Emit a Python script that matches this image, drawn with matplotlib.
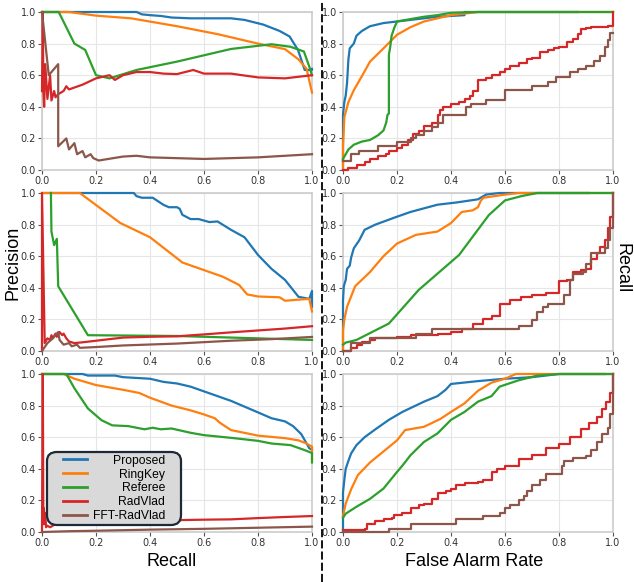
import numpy as np
import matplotlib
matplotlib.use("Agg")
import matplotlib.pyplot as plt
from matplotlib.lines import Line2D
from matplotlib.patches import BoxStyle

# ---------------- data ----------------
methods = ["Proposed", "RingKey", "Referee", "RadVlad", "FFT-RadVlad"]
colors = ["#1f77b4", "#ff7f0e", "#2ca02c", "#d62728", "#8c564b"]
tick_vals = [0.0, 0.2, 0.4, 0.6, 0.8, 1.0]
tick_labels = ["0.0", "0.2", "0.4", "0.6", "0.8", "1.0"]

# Row 1 - precision / recall
pr1_proposed_x = [0, 0.35, 0.37, 0.4, 0.44, 0.48, 0.55, 0.62, 0.7, 0.75, 0.82, 0.88, 0.917, 0.948, 0.96, 0.973, 1.0, 1.0]
pr1_proposed_y = [1.0, 1.0, 0.985, 0.98, 0.975, 0.965, 0.96, 0.96, 0.96, 0.95, 0.92, 0.88, 0.845, 0.76, 0.70, 0.633, 0.633, 0.64]
pr1_ringkey_x = [0, 0.1, 0.2, 0.33, 0.5, 0.65, 0.8, 0.9, 0.95, 0.98, 1.0]
pr1_ringkey_y = [1.0, 1.0, 0.977, 0.96, 0.91, 0.86, 0.80, 0.765, 0.70, 0.64, 0.49]
pr1_referee_x = [0, 0.062, 0.12, 0.16, 0.2, 0.25, 0.35, 0.5, 0.7, 0.85, 0.92, 0.97, 0.99, 1.0]
pr1_referee_y = [1.0, 1.0, 0.80, 0.76, 0.60, 0.58, 0.633, 0.686, 0.766, 0.796, 0.78, 0.75, 0.654, 0.60]
pr1_radvlad_x = [0.0, 0.003, 0.005, 0.008, 0.012, 0.02, 0.03, 0.035, 0.045, 0.05, 0.06, 0.08, 0.09, 0.1, 0.15, 0.2, 0.25,
                 0.27, 0.3, 0.35, 0.4, 0.45, 0.5, 0.56, 0.6, 0.7, 0.8, 0.9, 0.95, 1.0]
pr1_radvlad_y = [0.5, 1.0, 0.5, 0.4, 0.67, 0.45, 0.6, 0.44, 0.5, 0.46, 0.48, 0.5, 0.53, 0.51, 0.54, 0.58, 0.6,
                 0.57, 0.6, 0.62, 0.62, 0.61, 0.607, 0.633, 0.61, 0.61, 0.586, 0.58, 0.59, 0.6]
pr1_fft_x = [0.0, 0.025, 0.06, 0.06, 0.09, 0.1, 0.12, 0.13, 0.15, 0.16, 0.18, 0.19, 0.21, 0.3, 0.35, 0.4, 0.5, 0.6, 0.7, 0.8, 0.9, 1.0]
pr1_fft_y = [1.0, 0.6, 0.67, 0.15, 0.2, 0.13, 0.17, 0.1, 0.12, 0.08, 0.1, 0.075, 0.06, 0.085, 0.09, 0.08, 0.075, 0.07, 0.075, 0.08, 0.09, 0.1]

# Row 1 - ROC
roc1_proposed_x = [0, 0, 0.005, 0.01, 0.015, 0.02, 0.025, 0.04, 0.05, 0.07, 0.1, 0.15, 0.2, 0.3, 0.35, 0.45, 0.45, 0.87]
roc1_proposed_y = [0, 0.35, 0.43, 0.47, 0.55, 0.70, 0.77, 0.80, 0.85, 0.88, 0.91, 0.93, 0.94, 0.96, 0.97, 0.98, 1.0, 1.0]
roc1_ringkey_x = [0, 0, 0.005, 0.02, 0.04, 0.07, 0.1, 0.15, 0.2, 0.25, 0.3, 0.35, 0.4, 0.45, 0.5, 1.0]
roc1_ringkey_y = [0, 0.15, 0.335, 0.43, 0.505, 0.594, 0.686, 0.77, 0.856, 0.904, 0.94, 0.96, 0.98, 0.99, 1.0, 1.0]
roc1_referee_x = [0, 0.01, 0.02, 0.04, 0.07, 0.1, 0.13, 0.15, 0.16, 0.165, 0.17, 0.17, 0.175, 0.18, 0.19, 0.2, 0.25, 0.3, 0.35, 0.4, 0.5, 1.0]
roc1_referee_y = [0.07, 0.1, 0.13, 0.16, 0.18, 0.19, 0.22, 0.25, 0.30, 0.35, 0.357, 0.73, 0.78, 0.85, 0.90, 0.94, 0.955, 0.97, 0.98, 0.995, 1.0, 1.0]
roc1_radvlad_x = [0, 0.02, 0.05, 0.08, 0.1, 0.13, 0.16, 0.17, 0.2, 0.22, 0.24, 0.26, 0.28, 0.3, 0.33, 0.35, 0.36, 0.37, 0.4, 0.43,
                  0.45, 0.47, 0.48, 0.5, 0.53, 0.55, 0.58, 0.6, 0.62, 0.65, 0.68, 0.7, 0.73, 0.76, 0.78, 0.8, 0.83, 0.85,
                  0.87, 0.88, 0.9, 0.92, 0.98, 1.0, 1.0]
roc1_radvlad_y = [0, 0.01, 0.03, 0.05, 0.07, 0.09, 0.10, 0.12, 0.14, 0.16, 0.19, 0.23, 0.25, 0.28, 0.30, 0.35, 0.38, 0.40, 0.42, 0.43,
                  0.45, 0.47, 0.50, 0.57, 0.58, 0.60, 0.62, 0.64, 0.66, 0.68, 0.70, 0.71, 0.75, 0.76, 0.77, 0.78, 0.81, 0.83,
                  0.86, 0.89, 0.90, 0.905, 0.91, 0.91, 1.0]
roc1_fft_x = [0, 0.03, 0.06, 0.13, 0.2, 0.25, 0.27, 0.3, 0.33, 0.35, 0.37, 0.457, 0.475, 0.53, 0.6, 0.7, 0.76, 0.79, 0.84,
              0.87, 0.9, 0.93, 0.95, 0.97, 0.98, 0.99, 1.0]
roc1_fft_y = [0.06, 0.10, 0.12, 0.15, 0.18, 0.20, 0.22, 0.25, 0.27, 0.30, 0.35, 0.40, 0.42, 0.44, 0.505, 0.53, 0.56, 0.59, 0.62,
              0.64, 0.66, 0.69, 0.72, 0.78, 0.82, 0.87, 0.87]

# Row 2 - precision / recall
pr2_proposed_x = [0, 0.34, 0.35, 0.37, 0.41, 0.45, 0.47, 0.5, 0.51, 0.52, 0.55, 0.58, 0.62, 0.65, 0.7, 0.75, 0.8, 0.85, 0.9, 0.95, 0.99, 1.0, 1.0]
pr2_proposed_y = [1.0, 1.0, 0.98, 0.97, 0.97, 0.925, 0.91, 0.91, 0.90, 0.862, 0.835, 0.835, 0.816, 0.82, 0.767, 0.72, 0.608, 0.52, 0.45, 0.343, 0.33, 0.38, 0.28]
pr2_ringkey_x = [0, 0.14, 0.29, 0.4, 0.52, 0.67, 0.73, 0.76, 0.8, 0.88, 0.9, 0.95, 0.99, 1.0]
pr2_ringkey_y = [1.0, 1.0, 0.81, 0.72, 0.56, 0.47, 0.418, 0.358, 0.345, 0.34, 0.318, 0.325, 0.33, 0.25]
pr2_referee_x = [0.033, 0.035, 0.045, 0.055, 0.06, 0.17, 0.5, 0.8, 1.0]
pr2_referee_y = [1.0, 0.756, 0.67, 0.71, 0.41, 0.10, 0.095, 0.08, 0.07]
pr2_radvlad_x = [0.0, 0.0, 0.01, 0.02, 0.03, 0.035, 0.04, 0.05, 0.055, 0.065, 0.075, 0.08, 0.09, 0.1, 0.12, 0.15, 0.2, 0.3, 0.4, 0.5,
                 0.6, 0.7, 0.8, 0.9, 1.0]
pr2_radvlad_y = [0.0, 1.0, 0.05, 0.08, 0.07, 0.1, 0.08, 0.11, 0.09, 0.12, 0.1, 0.11, 0.08, 0.06, 0.05, 0.055, 0.065, 0.085, 0.09, 0.093,
                 0.105, 0.118, 0.13, 0.142, 0.157]
pr2_fft_x = [0.0, 0.02, 0.04, 0.05, 0.06, 0.065, 0.08, 0.1, 0.11, 0.13, 0.14, 0.2, 0.3, 0.5, 0.7, 0.85, 1.0]
pr2_fft_y = [0.0, 0.05, 0.08, 0.1, 0.12, 0.07, 0.04, 0.05, 0.03, 0.04, 0.02, 0.025, 0.035, 0.047, 0.065, 0.075, 0.089]

# Row 2 - ROC
roc2_proposed_x = [0, 0, 0.003, 0.01, 0.015, 0.025, 0.03, 0.04, 0.06, 0.08, 0.12, 0.2, 0.25, 0.35, 0.42, 0.5, 0.53, 0.58, 0.91]
roc2_proposed_y = [0, 0.32, 0.41, 0.45, 0.52, 0.54, 0.59, 0.65, 0.70, 0.767, 0.80, 0.85, 0.88, 0.926, 0.94, 0.96, 0.99, 1.0, 1.0]
roc2_ringkey_x = [0, 0, 0.005, 0.015, 0.045, 0.1, 0.15, 0.2, 0.27, 0.35, 0.4, 0.44, 0.48, 0.5, 0.51, 0.52, 0.6, 0.65, 1.0]
roc2_ringkey_y = [0, 0.13, 0.2, 0.28, 0.41, 0.50, 0.60, 0.68, 0.735, 0.756, 0.81, 0.88, 0.89, 0.91, 0.95, 0.97, 0.99, 1.0, 1.0]
roc2_referee_x = [0, 0.01, 0.05, 0.17, 0.28, 0.43, 0.54, 0.6, 0.66, 0.72, 1.0]
roc2_referee_y = [0.04, 0.053, 0.07, 0.174, 0.386, 0.608, 0.86, 0.953, 0.98, 1.0, 1.0]
roc2_radvlad_x = [0, 0.03, 0.05, 0.07, 0.1, 0.12, 0.2, 0.25, 0.35, 0.4, 0.44, 0.48, 0.52, 0.55, 0.58, 0.62, 0.66, 0.7, 0.75,
                  0.8, 0.83, 0.85, 0.88, 0.9, 0.92, 0.94, 0.95, 0.97, 0.98, 0.99, 1.0, 1.0]
roc2_radvlad_y = [0, 0.02, 0.04, 0.06, 0.07, 0.08, 0.09, 0.10, 0.11, 0.12, 0.14, 0.17, 0.20, 0.22, 0.30, 0.32, 0.34, 0.355, 0.37,
                  0.44, 0.45, 0.50, 0.51, 0.52, 0.58, 0.62, 0.66, 0.70, 0.78, 0.85, 0.92, 1.0]
roc2_fft_x = [0, 0.03, 0.1, 0.27, 0.33, 0.65, 0.7, 0.72, 0.74, 0.76, 0.82, 0.84, 0.85, 0.89, 0.9, 0.92, 0.97, 0.98, 0.99, 1.0, 1.0]
roc2_fft_y = [0, 0.05, 0.08, 0.11, 0.14, 0.16, 0.195, 0.25, 0.28, 0.30, 0.354, 0.45, 0.49, 0.50, 0.55, 0.62, 0.65, 0.70, 0.78, 0.80, 1.0]

# Row 3 - precision / recall
pr3_proposed_x = [0, 0.15, 0.17, 0.27, 0.3, 0.4, 0.45, 0.5, 0.55, 0.6, 0.7, 0.8, 0.85, 0.9, 0.93, 0.96, 0.98, 0.99, 1.0]
pr3_proposed_y = [1.0, 1.0, 0.99, 0.99, 0.98, 0.97, 0.95, 0.94, 0.92, 0.89, 0.83, 0.757, 0.72, 0.70, 0.67, 0.62, 0.56, 0.53, 0.52]
pr3_ringkey_x = [0, 0.08, 0.12, 0.2, 0.3, 0.36, 0.4, 0.48, 0.55, 0.6, 0.64, 0.66, 0.7, 0.8, 0.9, 0.95, 0.98, 1.0, 1.0]
pr3_ringkey_y = [1.0, 1.0, 0.97, 0.93, 0.90, 0.88, 0.85, 0.80, 0.77, 0.744, 0.72, 0.69, 0.645, 0.61, 0.594, 0.58, 0.56, 0.54, 0.46]
pr3_referee_x = [0, 0.09, 0.12, 0.17, 0.22, 0.26, 0.32, 0.38, 0.41, 0.44, 0.48, 0.55, 0.6, 0.7, 0.8, 0.85, 0.92, 0.97, 1.0, 1.0]
pr3_referee_y = [1.0, 1.0, 0.91, 0.782, 0.708, 0.675, 0.67, 0.65, 0.66, 0.65, 0.655, 0.628, 0.613, 0.596, 0.577, 0.56, 0.55, 0.52, 0.50, 0.44]
pr3_radvlad_x = [0.0, 0.003, 0.005, 0.007, 0.01, 0.012, 0.015, 0.02, 0.03, 0.05, 0.1, 0.3, 0.5, 0.6, 0.7, 0.8, 0.9, 1.0]
pr3_radvlad_y = [0.0, 1.0, 0.05, 0.15, 0.05, 0.12, 0.03, 0.04, 0.03, 0.05, 0.06, 0.07, 0.075, 0.078, 0.08, 0.088, 0.095, 0.101]
pr3_fft_x = [0.0, 0.1, 0.2, 0.4, 0.6, 0.8, 1.0]
pr3_fft_y = [0.0, 0.005, 0.008, 0.015, 0.02, 0.027, 0.034]

# Row 3 - ROC
roc3_proposed_x = [0, 0, 0.005, 0.01, 0.02, 0.03, 0.05, 0.08, 0.12, 0.17, 0.22, 0.3, 0.35, 0.38, 0.4, 0.5, 0.6, 0.7, 0.8, 0.97]
roc3_proposed_y = [0, 0.25, 0.33, 0.40, 0.45, 0.497, 0.55, 0.60, 0.65, 0.71, 0.76, 0.825, 0.86, 0.90, 0.937, 0.955, 0.97, 0.98, 1.0, 1.0]
roc3_ringkey_x = [0, 0.01, 0.03, 0.055, 0.1, 0.15, 0.2, 0.23, 0.3, 0.36, 0.4, 0.45, 0.5, 0.55, 0.6, 0.64, 1.0]
roc3_ringkey_y = [0.1, 0.18, 0.27, 0.36, 0.44, 0.51, 0.58, 0.645, 0.666, 0.715, 0.76, 0.814, 0.894, 0.945, 0.97, 1.0, 1.0]
roc3_referee_x = [0, 0.01, 0.05, 0.1, 0.15, 0.2, 0.22, 0.25, 0.3, 0.35, 0.4, 0.45, 0.5, 0.55, 0.58, 0.65, 0.72, 0.8, 1.0]
roc3_referee_y = [0.09, 0.116, 0.16, 0.21, 0.275, 0.38, 0.42, 0.486, 0.57, 0.624, 0.71, 0.76, 0.825, 0.86, 0.92, 0.96, 0.99, 1.0, 1.0]
roc3_radvlad_x = [0, 0.05, 0.08, 0.09, 0.12, 0.15, 0.18, 0.19, 0.22, 0.25, 0.28, 0.3, 0.33, 0.35, 0.38, 0.4, 0.42, 0.45, 0.5, 0.52,
                  0.55, 0.57, 0.6, 0.65, 0.7, 0.75, 0.8, 0.84, 0.88, 0.91, 0.94, 0.96, 0.975, 0.99, 1.0, 1.0]
roc3_radvlad_y = [0.01, 0.015, 0.02, 0.05, 0.07, 0.08, 0.09, 0.11, 0.12, 0.15, 0.17, 0.18, 0.21, 0.25, 0.26, 0.27, 0.30, 0.31, 0.317, 0.33,
                  0.38, 0.40, 0.42, 0.46, 0.49, 0.53, 0.56, 0.60, 0.65, 0.69, 0.73, 0.78, 0.82, 0.88, 0.95, 1.0]
roc3_fft_x = [0, 0.17, 0.25, 0.42, 0.52, 0.58, 0.6, 0.62, 0.65, 0.67, 0.68, 0.7, 0.73, 0.75, 0.81, 0.82, 0.85, 0.9, 0.92,
              0.94, 0.96, 0.98, 0.99, 1.0, 1.0]
roc3_fft_y = [0, 0.02, 0.05, 0.08, 0.10, 0.12, 0.15, 0.17, 0.20, 0.23, 0.26, 0.30, 0.33, 0.37, 0.42, 0.45, 0.47, 0.48, 0.52,
              0.57, 0.62, 0.66, 0.75, 0.85, 1.0]

rows = [
    ([(pr1_proposed_x, pr1_proposed_y), (pr1_ringkey_x, pr1_ringkey_y), (pr1_referee_x, pr1_referee_y),
      (pr1_radvlad_x, pr1_radvlad_y), (pr1_fft_x, pr1_fft_y)],
     [(roc1_proposed_x, roc1_proposed_y), (roc1_ringkey_x, roc1_ringkey_y), (roc1_referee_x, roc1_referee_y),
      (roc1_radvlad_x, roc1_radvlad_y), (roc1_fft_x, roc1_fft_y)]),
    ([(pr2_proposed_x, pr2_proposed_y), (pr2_ringkey_x, pr2_ringkey_y), (pr2_referee_x, pr2_referee_y),
      (pr2_radvlad_x, pr2_radvlad_y), (pr2_fft_x, pr2_fft_y)],
     [(roc2_proposed_x, roc2_proposed_y), (roc2_ringkey_x, roc2_ringkey_y), (roc2_referee_x, roc2_referee_y),
      (roc2_radvlad_x, roc2_radvlad_y), (roc2_fft_x, roc2_fft_y)]),
    ([(pr3_proposed_x, pr3_proposed_y), (pr3_ringkey_x, pr3_ringkey_y), (pr3_referee_x, pr3_referee_y),
      (pr3_radvlad_x, pr3_radvlad_y), (pr3_fft_x, pr3_fft_y)],
     [(roc3_proposed_x, roc3_proposed_y), (roc3_ringkey_x, roc3_ringkey_y), (roc3_referee_x, roc3_referee_y),
      (roc3_radvlad_x, roc3_radvlad_y), (roc3_fft_x, roc3_fft_y)]),
]

# ---------------- figure ----------------
W, H = 634, 582
DPI = 100
fig = plt.figure(figsize=(W / DPI, H / DPI), dpi=DPI)
fig.patch.set_facecolor("white")

label_font = "Liberation Sans"
tick_font = "DejaVu Sans"

col_left_px = [42, 343]
ax_w_px = 270
row_top_px = [12, 193, 374]
ax_h_px = 158


def style_axes(ax):
    ax.set_xlim(0, 1)
    ax.set_ylim(0, 1)
    ax.set_xticks(tick_vals)
    ax.set_yticks(tick_vals)
    ax.set_xticklabels(tick_labels, fontfamily=tick_font, fontsize=7, color="#333333")
    ax.set_yticklabels(tick_labels, fontfamily=tick_font, fontsize=7, color="#333333")
    ax.tick_params(length=3, width=0.8, color="#555555", pad=1.5)
    ax.grid(True, color="#e6e6e6", linewidth=0.8)
    ax.set_axisbelow(True)
    for s in ax.spines.values():
        s.set_color("#cccccc")
        s.set_linewidth(1.2)


axes = []
for r in range(3):
    for c in range(2):
        left = col_left_px[c] / W
        bottom = 1 - (row_top_px[r] + ax_h_px) / H
        ax = fig.add_axes([left, bottom, ax_w_px / W, ax_h_px / H])
        style_axes(ax)
        series = rows[r][c]
        for i, (xs, ys) in enumerate(series):
            ds = "steps-post" if (c == 1 and i >= 3) else "default"
            ax.plot(xs, ys, color=colors[i], lw=1.6, label=methods[i], clip_on=False,
                    drawstyle=ds, solid_joinstyle="round", zorder=3 + i * 0.1)
        axes.append(ax)

# legend in bottom-left axes
ax_leg = axes[4]
padx = 13


class WideRound:
    def __init__(self, px, rs):
        self.px = px
        self.rs = rs

    def __call__(self, x0, y0, width, height, mutation_size):
        return BoxStyle.Round(pad=0, rounding_size=self.rs)(
            x0 - self.px, y0, width + 2 * self.px, height, mutation_size)


leg = ax_leg.legend(loc="lower left",
                    bbox_to_anchor=((47 + padx - 42) / ax_w_px, (532 - 525) / ax_h_px),
                    borderaxespad=0, prop={"family": label_font, "size": 8.7},
                    handlelength=2.0, handletextpad=0.45, labelspacing=0.15,
                    borderpad=0.25, frameon=True, fancybox=True, framealpha=1.0)
frame = leg.get_frame()
frame.set_facecolor("#d9d9d9")
frame.set_edgecolor("#1b2a36")
frame.set_linewidth(1.6)
frame.set_boxstyle(WideRound(padx, 0.8))
leg.set_zorder(10)
for h in leg.get_lines():
    h.set_linewidth(2.0)

renderer = fig.canvas.get_renderer()
texts = leg.get_texts()
widths = [t.get_window_extent(renderer).width for t in texts]
maxw = max(widths)
for t, w in zip(texts, widths):
    t.set_position((maxw - w, 0))

# figure labels
fig.text(13 / W, 1 - 263 / H, "Precision", rotation=90, ha="center", va="center",
         fontfamily=label_font, fontsize=13)
fig.text(622 / W, 1 - 268 / H, "Recall", rotation=270, ha="center", va="center",
         fontfamily=label_font, fontsize=13)
fig.text(172 / W, 1 - 562 / H, "Recall", ha="center", va="center",
         fontfamily=label_font, fontsize=13)
fig.text(474 / W, 1 - 562 / H, "False Alarm Rate", ha="center", va="center",
         fontfamily=label_font, fontsize=13)

# dashed separator
fig.add_artist(Line2D([322 / W, 322 / W], [0, 1], transform=fig.transFigure,
                      color="black", lw=1.3, linestyle=(0, (4.5, 1.7))))

fig.savefig("out.png", dpi=DPI)
